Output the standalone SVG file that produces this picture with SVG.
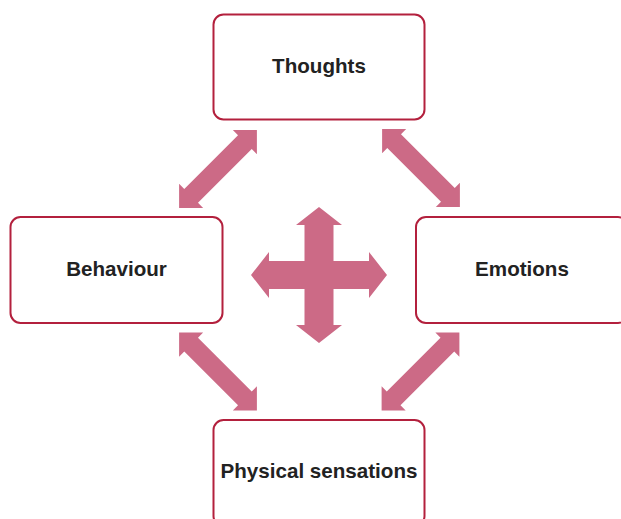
<svg xmlns="http://www.w3.org/2000/svg" width="621" height="519" viewBox="0 0 621 519">
<style>
.box{fill:#ffffff;stroke:#b3203d;stroke-width:2}
.lbl{font-family:"Liberation Sans",Arial,sans-serif;font-weight:bold;font-size:20.6px;fill:#222222;text-anchor:middle}
.arr{fill:#cc6a86}
</style>
<defs>
<polygon id="darr" points="-55,0 -38,-17 -38,-9.7 38,-9.7 38,-17 55,0 38,17 38,9.7 -38,9.7 -38,17"/>
</defs>
<rect width="621" height="519" fill="#ffffff"/>
<g id="connectors" class="arr">
<use href="#darr" transform="translate(218,169) rotate(-45)"/>
<use href="#darr" transform="translate(421,168) rotate(45)"/>
<use href="#darr" transform="translate(218,371.5) rotate(45)"/>
<use href="#darr" transform="translate(420.5,371.5) rotate(-45)"/>
<polygon points="319,207 342,225 333.5,225 333.5,261 369,261 369,252 387,275 369,298 369,289 333.5,289 333.5,325 342,325 319,343 296,325 304.5,325 304.5,289 269,289 269,298 251,275 269,252 269,261 304.5,261 304.5,225 296,225"/>
</g>
<g id="thoughts">
<rect class="box" x="213.5" y="14.5" width="211" height="105" rx="10"/>
<text class="lbl" x="319" y="73">Thoughts</text>
</g>
<g id="behaviour">
<rect class="box" x="10.5" y="217" width="212" height="106" rx="10"/>
<text class="lbl" x="116.5" y="276">Behaviour</text>
</g>
<g id="emotions">
<rect class="box" x="416" y="217" width="212" height="106" rx="10"/>
<text class="lbl" x="522" y="276">Emotions</text>
</g>
<g id="physical">
<rect class="box" x="213.5" y="420" width="211" height="106" rx="10"/>
<text class="lbl" x="319" y="478">Physical sensations</text>
</g>
</svg>
